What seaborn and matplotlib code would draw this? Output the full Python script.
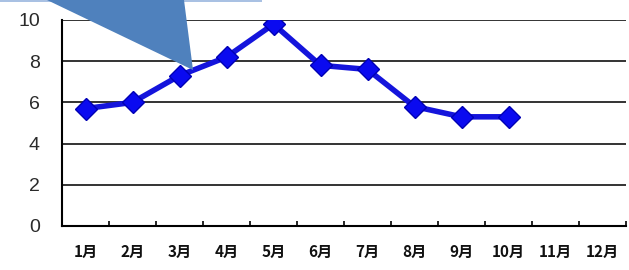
import matplotlib
matplotlib.use('Agg')
import matplotlib.pyplot as plt
import seaborn as sns
import pandas as pd
from matplotlib.patches import Polygon, Rectangle
from matplotlib.ticker import FixedLocator

# data
month_num = [1, 2, 3, 4, 5, 6, 7, 8, 9, 10]
values = [5.7, 6.0, 7.3, 8.2, 9.8, 7.8, 7.6, 5.8, 5.3, 5.3]
month_labels = ['1月', '2月', '3月', '4月', '5月', '6月', '7月', '8月', '9月', '10月', '11月', '12月']
y_ticks = [0, 2, 4, 6, 8, 10]

df = pd.DataFrame({'month': month_num, 'value': values})

sns.set_style('white')
plt.rcParams['font.family'] = ['Noto Sans CJK JP', 'DejaVu Sans']

fig = plt.figure(figsize=(6.29, 2.70), dpi=100)
ax = fig.add_axes([62 / 629, 44 / 270, 564 / 629, 206 / 270])

sns.lineplot(data=df, x='month', y='value', ax=ax, color='#1414dc', linewidth=4.0,
             marker='D', markersize=11, markerfacecolor='#0a0af0',
             markeredgecolor='#0000b4', markeredgewidth=1.0)

ax.set_xlim(0.5, 12.5)
ax.set_ylim(0, 10)
ax.set_yticks(y_ticks)
ax.set_yticklabels([str(v) for v in y_ticks], family='Liberation Sans', fontsize=14, color='#2a2a2a')
ax.set_xticks(range(1, 13))
ax.set_xticklabels(month_labels, fontsize=11, fontweight='bold', color='#111111')
ax.xaxis.set_minor_locator(FixedLocator([x + 0.5 for x in range(1, 13)]))
ax.tick_params(axis='x', which='major', length=0, pad=13)
ax.tick_params(axis='x', which='minor', direction='in', length=3.5, width=1.2, color='black', bottom=True)
ax.tick_params(axis='y', which='major', length=0, pad=16)
ax.set_xlabel('')
ax.set_ylabel('')

for v in y_ticks[1:]:
    ax.axhline(v, color='#111111', linewidth=1.2, zorder=0)

for s in ['top', 'right']:
    ax.spines[s].set_visible(False)
for s in ['left', 'bottom']:
    ax.spines[s].set_color('black')
    ax.spines[s].set_linewidth(1.5)

# callout tail and box edge at the top
to_fig = lambda x, y: (x / 629, 1 - y / 270)
fig.patches.append(Rectangle(to_fig(0, 2), 262 / 629, 2 / 270, transform=fig.transFigure,
                             facecolor='#a9c1e3', edgecolor='none', zorder=5))
fig.patches.append(Polygon([to_fig(47, 0), to_fig(184, 0), to_fig(193, 70)], closed=True,
                           transform=fig.transFigure, facecolor='#4f81bd', edgecolor='none', zorder=6))

fig.savefig('out.png', dpi=100, facecolor='white')
